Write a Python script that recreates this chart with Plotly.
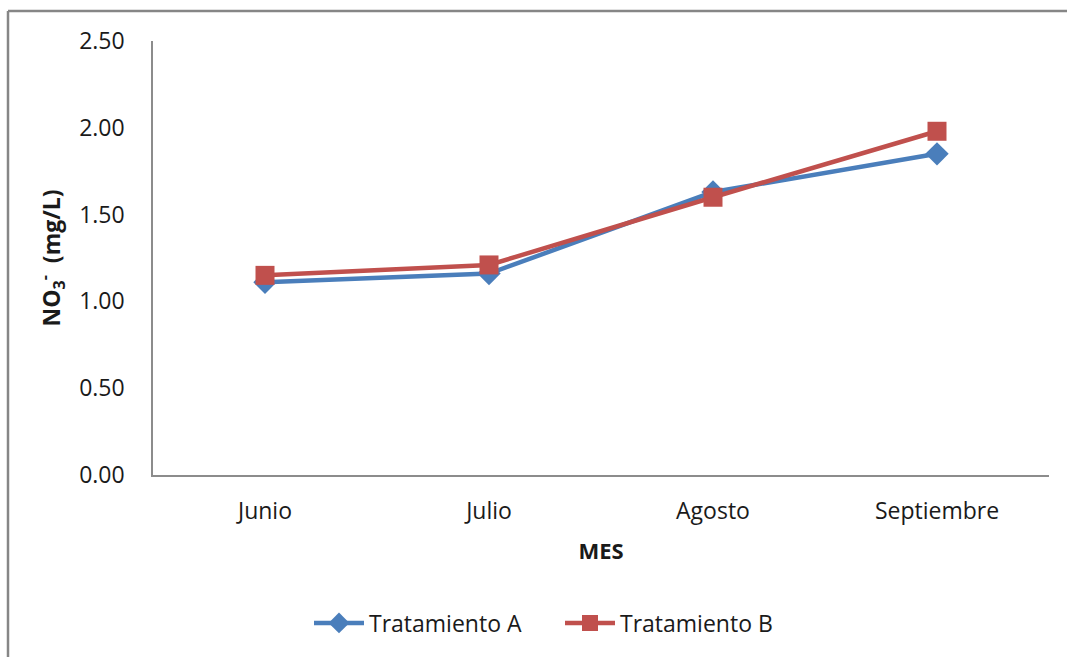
import plotly.graph_objects as go

# Monthly nitrate readings (mg/L) for the two treatments
meses = ["Junio", "Julio", "Agosto", "Septiembre"]
tratamiento_a = [1.11, 1.16, 1.63, 1.85]
tratamiento_b = [1.15, 1.21, 1.60, 1.98]
y_ticks = [0.0, 0.5, 1.0, 1.5, 2.0, 2.5]

FONT = "Open Sans"
TEXT = "#1a1a1a"
AXIS = "#8c8c8c"
FS = 23

fig = go.Figure()
fig.add_trace(go.Scatter(
    x=meses, y=tratamiento_a, name="Tratamiento A", mode="lines+markers",
    line=dict(color="#4a7ebb", width=4.5),
    marker=dict(symbol="diamond", size=18, color="#4a7ebb"),
))
fig.add_trace(go.Scatter(
    x=meses, y=tratamiento_b, name="Tratamiento B", mode="lines+markers",
    line=dict(color="#c0504d", width=4.5),
    marker=dict(symbol="square", size=19, color="#c0504d"),
))

# plot-area geometry in pixels, used to place the outer frame in paper units
L, R, T, B = 153, 18, 41, 182
W, H = 1067, 657
pw, ph = W - L - R, H - T - B
def px_x(px):
    return (px - L) / pw
def px_y(py):
    return (H - B - py) / ph

fig.update_layout(
    width=W, height=H,
    margin=dict(l=L, r=R, t=T, b=B),
    paper_bgcolor="white", plot_bgcolor="white",
    font=dict(family=FONT, size=FS, color=TEXT),
    showlegend=True,
    legend=dict(orientation="h", x=px_x(309), xanchor="left", y=px_y(623), yanchor="middle",
                font=dict(size=FS, color=TEXT), itemwidth=50, entrywidth=186,
                tracegroupgap=0),
    xaxis=dict(
        range=[-0.5, 3.5],
        showline=True, linecolor=AXIS, linewidth=1.5, showgrid=False, zeroline=False,
        ticks="", ticklabelstandoff=15, tickfont=dict(size=FS, color=TEXT),
        title=dict(text="<b>MES</b>", font=dict(size=FS - 1, color=TEXT), standoff=18),
    ),
    yaxis=dict(
        range=[0, 2.5], tickvals=y_ticks, tickformat=".2f",
        showline=True, linecolor=AXIS, linewidth=1.5, showgrid=False, zeroline=False,
        ticks="", ticklabelstandoff=22, tickfont=dict(size=FS, color=TEXT),
        title=dict(text="<b>NO<sub>3</sub><sup>-</sup>  (mg/L)</b>",
                   font=dict(size=FS, color=TEXT), standoff=12),
    ),
    shapes=[
        dict(type="line", xref="paper", yref="paper", x0=px_x(8), x1=px_x(W + 5),
             y0=px_y(11), y1=px_y(11), line=dict(color="#868686", width=2.5)),
        dict(type="line", xref="paper", yref="paper", x0=px_x(8), x1=px_x(8),
             y0=px_y(11), y1=px_y(H + 5), line=dict(color="#868686", width=2.5)),
    ],
)

fig.write_html("out.html")
